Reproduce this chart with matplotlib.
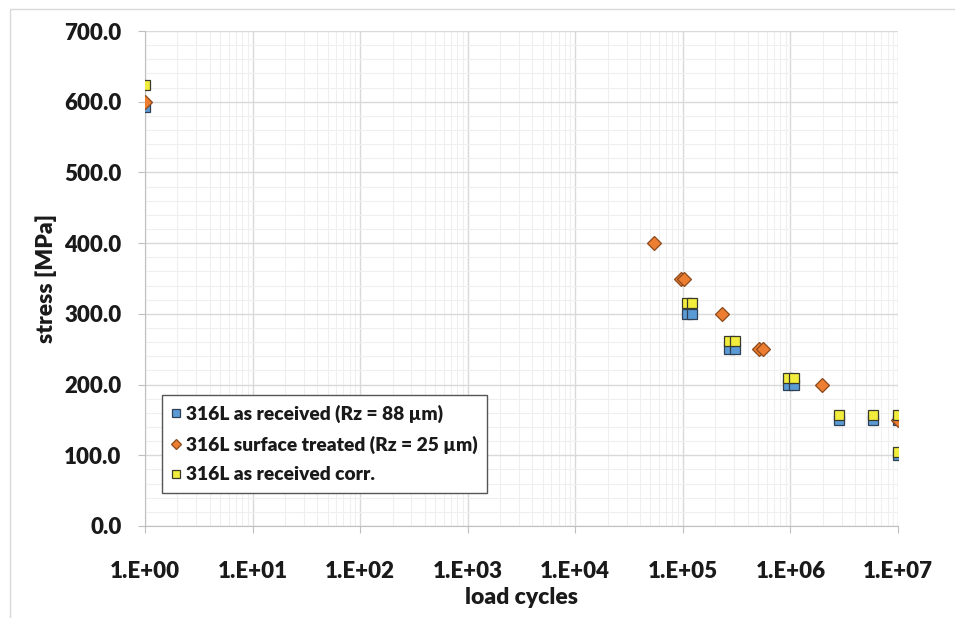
import math

import matplotlib.pyplot as plt
import matplotlib.ticker as ticker
from matplotlib.patches import Rectangle

# as received (Rz = 88 um)
recv_cycles = [1, 1.09e5, 1.21e5, 2.67e5, 3.04e5, 9.46e5, 1.07e6, 2.8e6, 5.9e6, 1.0e7, 1.0e7]
recv_stress = [593, 300, 300, 250, 250, 200, 200, 150, 150, 150, 100]

# surface treated (Rz = 25 um)
treat_cycles = [1, 5.4e4, 9.7e4, 1.03e5, 2.3e5, 5.15e5, 5.6e5, 1.95e6, 1.0e7]
treat_stress = [600, 400, 350, 350, 300, 250, 250, 200, 150]

# as received corr.
corr_cycles = [1, 1.09e5, 1.21e5, 2.67e5, 3.04e5, 9.46e5, 1.07e6, 2.8e6, 5.9e6, 1.0e7, 1.0e7]
corr_stress = [623, 316, 316, 262, 262, 210, 210, 157, 157, 157, 105]

labels = [
    "316L as received (Rz = 88 µm)",
    "316L surface treated (Rz = 25 µm)",
    "316L as received corr.",
]

plt.rcParams["font.family"] = ["Lato", "DejaVu Sans"]
plt.rcParams["font.weight"] = "heavy"
TXT = "#1a1a1a"


def _exp_label(x, _pos):
    return f"1.E+{int(round(math.log10(x))):02d}"


fig = plt.figure(figsize=(9.55, 6.18), dpi=100)
ax = fig.add_axes([145 / 955, 1 - 526 / 618, 753 / 955, 495 / 618])

# light outer frame like the Excel chart area
fig.patches.append(Rectangle((10 / 955, -0.1), 1.2, 1.1 - 9 / 618,
                             transform=fig.transFigure, fill=False,
                             edgecolor="#d9d9d9", linewidth=1))

ax.plot(recv_cycles, recv_stress, linestyle="none", marker="s", markersize=7.5,
        markerfacecolor="#5b9bd5", markeredgecolor="#2f3f55", markeredgewidth=0.9,
        label=labels[0], zorder=3)
ax.plot(treat_cycles, treat_stress, linestyle="none", marker="D", markersize=7,
        markerfacecolor="#ed7d31", markeredgecolor="#8a4a1c", markeredgewidth=0.9,
        label=labels[1], zorder=4)
ax.plot(corr_cycles, corr_stress, linestyle="none", marker="s", markersize=7.5,
        markerfacecolor="#f2ec3c", markeredgecolor="#3a3a2a", markeredgewidth=0.9,
        label=labels[2], zorder=5)

ax.set_xscale("log")
ax.set_xlim(1, 1e7)
ax.set_ylim(0, 700)

ax.xaxis.set_major_locator(ticker.LogLocator(base=10, numticks=10))
ax.xaxis.set_minor_locator(ticker.LogLocator(base=10, subs=range(2, 10), numticks=20))
ax.xaxis.set_major_formatter(ticker.FuncFormatter(_exp_label))
ax.xaxis.set_minor_formatter(ticker.NullFormatter())
ax.yaxis.set_major_locator(ticker.MultipleLocator(100))
ax.yaxis.set_minor_locator(ticker.MultipleLocator(20))
ax.yaxis.set_major_formatter(ticker.FormatStrFormatter("%.1f"))

ax.grid(True, which="major", color="#d9d9d9", linewidth=1)
ax.grid(True, which="minor", color="#efefef", linewidth=0.8)
ax.set_axisbelow(True)

for side in ("top", "right"):
    ax.spines[side].set_visible(False)
for side in ("left", "bottom"):
    ax.spines[side].set_color("#bfbfbf")

ax.tick_params(axis="both", which="major", length=5, color="#bfbfbf",
               labelsize=16, labelcolor=TXT)
ax.tick_params(axis="y", which="major", pad=12)
ax.tick_params(axis="x", which="major", pad=20)
ax.tick_params(axis="both", which="minor", length=0)
for lab in ax.get_xticklabels() + ax.get_yticklabels():
    lab.set_fontweight("heavy")

ax.set_xlabel("load cycles", fontsize=16.5, fontweight="heavy", color=TXT, labelpad=4)
ax.set_ylabel("stress [MPa]", fontsize=16.5, fontweight="heavy", color=TXT, labelpad=5)

leg = ax.legend(loc="lower left", bbox_to_anchor=(0.022, 0.067), borderaxespad=0,
                fancybox=False, edgecolor="#555555", framealpha=1,
                prop={"weight": "heavy", "size": 13.8}, handletextpad=0.25,
                handlelength=0.5, markerscale=0.75, labelspacing=0.65,
                borderpad=0.5)
leg.get_frame().set_linewidth(1)
for t in leg.get_texts():
    t.set_color(TXT)

fig.savefig("out.png", dpi=100)
